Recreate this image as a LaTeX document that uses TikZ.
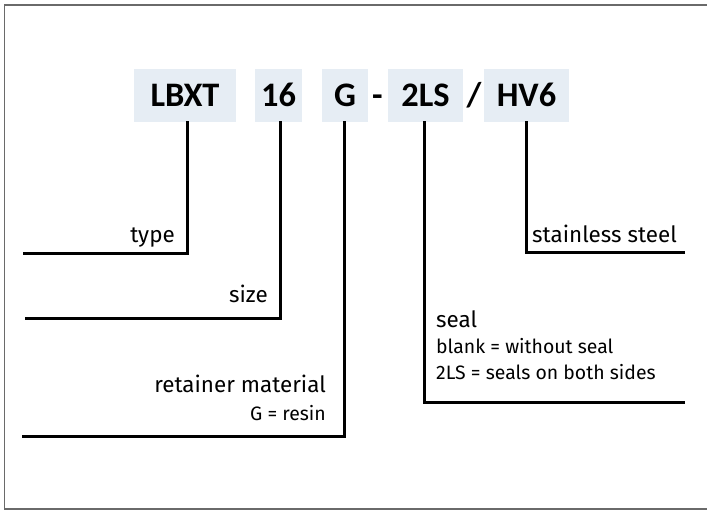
\documentclass[tikz,border=0pt]{standalone}
\usepackage{fontspec}
\setmainfont{Fira Sans}
\newfontfamily\codefont{Carlito}
\definecolor{boxfill}{HTML}{E6EDF4}
\definecolor{framegray}{HTML}{6A6A6A}
\tikzset{
  codebox/.style={fill=boxfill, inner sep=0pt, minimum height=53bp, anchor=center},
  sep/.style={inner sep=0pt, font=\codefont\fontsize{34.5}{34}\selectfont\bfseries},
  lead/.style={line width=3bp, line cap=rect},
  lab/.style={inner sep=0pt, font=\fontsize{22.5}{26}\selectfont},
  sublab/.style={inner sep=0pt, font=\fontsize{19.5}{22}\selectfont},
}
\begin{document}
\begin{tikzpicture}[x=1bp, y=-1bp]
\useasboundingbox (0,0) rectangle (707,510);
\draw[framegray, line width=1.5bp] (708,5) -- (4.5,5) -- (4.5,509) -- (708,509);
% code boxes
\node[codebox, minimum width=102bp] (lbxt) at (185,95.5) {};
\node[codebox, minimum width=47bp] (n16) at (278.5,95.5) {};
\node[codebox, minimum width=46bp] (g) at (345,95.5) {};
\node[codebox, minimum width=75bp] (ls) at (425.5,95.5) {};
\node[codebox, minimum width=85bp] (hv) at (526.5,95.5) {};
\node[sep, anchor=base] (t1) at (185,107) {LBXT};
\node[sep, anchor=base] (t2) at (278.5,107) {16};
\node[sep, anchor=base] (t3) at (345,107) {G};
\node[sep, anchor=base] (t4) at (425.5,107) {2LS};
\node[sep, anchor=base] (t5) at (526.5,107) {HV6};
\node[sep, anchor=base] (dash) at (377.5,107) {-};
\node[sep, anchor=base] (slash) at (474,107) {/};
% leaders
\coordinate (e1) at (24,254);
\coordinate (e2) at (26,318);
\coordinate (e3) at (23,436);
\coordinate (e4) at (683,402);
\coordinate (e5) at (683,253);
\draw[lead] (lbxt.south -| 187,0) |- (e1);
\draw[lead] (n16.south -| 280,0) |- (e2);
\draw[lead] (g.south -| 344.5,0) |- (e3);
\draw[lead] (ls.south -| 424,0) |- (e4);
\draw[lead] (hv.south -| 526,0) |- (e5);
% labels
\node[lab, anchor=base east] (ltype) at (175,243) {type};
\node[lab, anchor=base east] (lsize) at (268,302) {size};
\node[lab, anchor=base east] (lret) at (326,392) {retainer material};
\node[sublab, anchor=base east] (lret2) at (326,420) {G = resin};
\node[lab, anchor=base west] (lseal) at (436,327) {seal};
\node[sublab, anchor=base west] (lseal2) at (436,353) {blank = without seal};
\node[sublab, anchor=base west] (lseal3) at (436,379) {2LS = seals on both sides};
\node[lab, anchor=base west] (lst) at (532,243) {stainless steel};
\end{tikzpicture}
\end{document}
